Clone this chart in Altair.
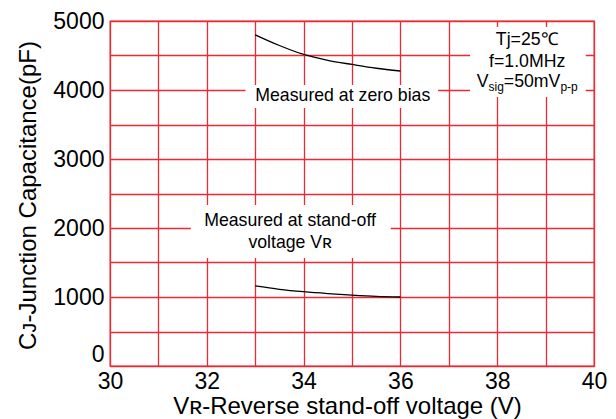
import altair as alt
import pandas as pd

# Junction capacitance vs. reverse stand-off voltage
volts = [33.0, 33.5, 34.0, 34.5, 35.0, 35.5, 36.0]
cj_zero_bias = [4800, 4645, 4515, 4430, 4370, 4315, 4275]
cj_standoff = [1160, 1112, 1077, 1050, 1028, 1010, 1000]

x_ticks = list(range(30, 41))
y_ticks = list(range(0, 5001, 500))

RED = "#ec2a33"
FONT = "Liberation Sans"
AXIS_FS = 23
TITLE_FS = 24
NOTE_FS = 17.7

curves = pd.DataFrame({
    "x": volts + volts,
    "y": cj_zero_bias + cj_standoff,
    "series": ["zero bias"] * len(volts) + ["stand-off"] * len(volts),
})

# white panels behind the annotations (they interrupt the grid)
boxes = pd.DataFrame({
    "x": [32.8, 31.67, 37.44],
    "x2": [36.78, 35.8, 39.83],
    "y": [4072, 2333, 4913],
    "y2": [3739, 1565, 3899],
})

xs = alt.Scale(domain=[30, 40], nice=False, zero=False)
ys = alt.Scale(domain=[0, 5000], nice=False, zero=True)

x_axis = alt.Axis(
    values=x_ticks,
    labelExpr="datum.value % 2 == 0 ? datum.label : ''",
    format="d",
    grid=True, gridColor=RED, gridWidth=1.3,
    ticks=False, domain=False,
    labelFont=FONT, labelFontSize=AXIS_FS, labelColor="black", labelPadding=4,
    labelFlush=False,
    title="V\u0280-Reverse stand-off voltage (V)",
    titleFont=FONT, titleFontSize=TITLE_FS, titleFontWeight="normal", titleColor="black",
    titleX=237, titleY=40, titleBaseline="middle", titleAlign="center",
)
y_axis = alt.Axis(
    values=y_ticks,
    labelExpr="datum.value % 1000 == 0 ? datum.label : ''",
    format="d",
    grid=True, gridColor=RED, gridWidth=1.3,
    ticks=False, domain=False,
    labelFont=FONT, labelFontSize=AXIS_FS, labelColor="black", labelPadding=6,
    labelFlush=False,
    labelBaseline={"condition": {"test": "datum.value == 0", "value": "bottom"},
                   "value": "middle"},
    title="C\u1d0a-Junction  Capacitance(pF)",
    titleFont=FONT, titleFontSize=TITLE_FS, titleFontWeight="normal", titleColor="black",
    titleX=-82, titleY=174, titleAngle=-90, titleBaseline="middle", titleAlign="center",
)

X = alt.X("x:Q", scale=xs, axis=x_axis)
Y = alt.Y("y:Q", scale=ys, axis=y_axis)

panel = alt.Chart(boxes).mark_rect(color="white").encode(
    x=X, x2="x2:Q", y=Y, y2="y2:Q"
)

lines = alt.Chart(curves).mark_line(
    color="black", strokeWidth=1.3, interpolate="monotone"
).encode(x=X, y=Y, detail="series:N")


def note(text, x, y, size=NOTE_FS, dx=0, dy=0, align="center"):
    df = pd.DataFrame({"x": [x], "y": [y], "t": [text]})
    return alt.Chart(df).mark_text(
        font=FONT, fontSize=size, color="black", align=align,
        baseline="alphabetic", dx=dx, dy=dy,
    ).encode(x=X, y=Y, text="t:N")


tj_x = 38.62
notes = [
    note("Measured at zero bias", 34.81, 3845),
    note("Measured at stand-off", 33.72, 2033),
    note("voltage V\u0280", 33.72, 1706),
    note("Tj=25\u2103", tj_x, 4652),
    note("f=1.0MHz", tj_x, 4333),
    note("V", tj_x, 4043, dx=-50.5, align="left"),
    note("sig", tj_x, 4043, size=12, dx=-38.7, dy=4, align="left"),
    note("=50mV", tj_x, 4043, dx=-23.4, align="left"),
    note("p-p", tj_x, 4043, size=12, dx=33.2, dy=4, align="left"),
]

chart = alt.layer(panel, lines, *notes).properties(
    width=484,
    height=345,
    padding={"left": 110, "top": 21, "right": 22, "bottom": 53},
    autosize=alt.AutoSizeParams(type="none"),
    background="white",
).configure_view(stroke=RED, strokeWidth=1.3)

chart.save("out.html", embed_options={"renderer": "svg", "actions": False})
